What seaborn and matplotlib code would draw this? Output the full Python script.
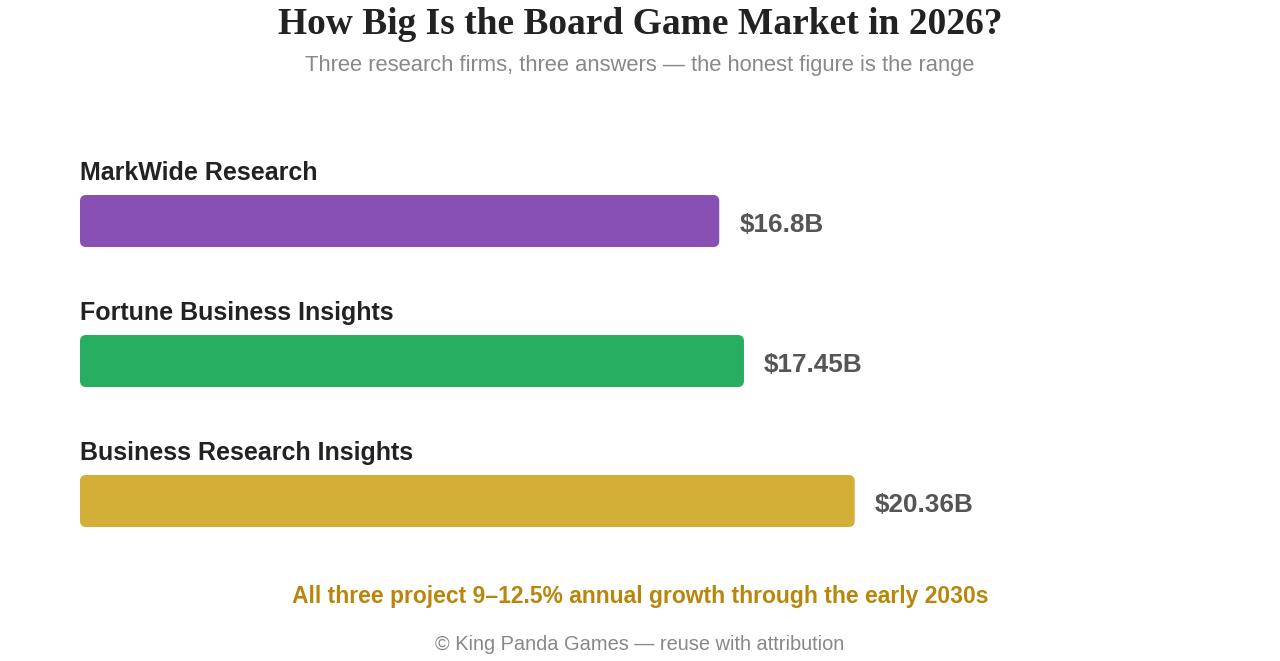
import matplotlib.pyplot as plt
import numpy as np, pandas as pd
import seaborn as sns
from matplotlib.patches import FancyBboxPatch

firms = ["MarkWide Research", "Fortune Business Insights", "Business Research Insights"]
values = [16.8, 17.45, 20.36]
value_labels = ["$16.8B", "$17.45B", "$20.36B"]
colors = ["#8950B3", "#27AE60", "#D4AF37"]

df = pd.DataFrame({"firm": firms, "value": values})

sns.set_theme(style="white")
plt.rcParams["font.family"] = ["Liberation Sans", "DejaVu Sans"]

fig = plt.figure(figsize=(12.8, 6.61), dpi=100)
ax = fig.add_axes([80 / 1280, 90 / 661, 1120 / 1280, 420 / 661])

sns.barplot(data=df, x="value", y="firm", hue="firm", palette=colors,
            orient="h", width=52 / 140, saturation=1, legend=False, ax=ax)

# swap plain bars for rounded ones
for p in list(ax.patches):
    x0, y0, w, h = p.get_x(), p.get_y(), p.get_width(), p.get_height()
    fc = p.get_facecolor()
    p.remove()
    ax.add_patch(FancyBboxPatch((x0, y0), w, h,
                                boxstyle="round,pad=0,rounding_size=0.16",
                                mutation_aspect=0.27, fc=fc, ec="none"))

ax.set_xlim(0, 1120 / 38.05)
ax.set_ylim(2.5, -0.5)
ax.axis("off")

for i, (name, v, lab) in enumerate(zip(firms, values, value_labels)):
    ax.text(0, i - 0.345, name, ha="left", va="center", fontsize=18,
            fontweight="bold", color="#222222")
    ax.text(v + 0.53, i + 0.03, lab, ha="left", va="center", fontsize=18.8,
            fontweight="bold", color="#555555")

fig.text(0.5, 1 - 24 / 661, "How Big Is the Board Game Market in 2026?",
         ha="center", va="center", fontsize=27, fontweight="bold",
         family=["Liberation Serif", "DejaVu Serif"], color="#222222")
fig.text(0.5, 1 - 66 / 661,
         "Three research firms, three answers \u2014 the honest figure is the range",
         ha="center", va="center", fontsize=15.8, color="#888888")
fig.text(0.5, 1 - 597 / 661,
         "All three project 9\u201312.5% annual growth through the early 2030s",
         ha="center", va="center", fontsize=16.5, fontweight="bold", color="#B8860B")
fig.text(0.5, 1 - 645 / 661, "\u00a9 King Panda Games \u2014 reuse with attribution",
         ha="center", va="center", fontsize=14.4, color="#888888")

fig.savefig("out.png", dpi=100, facecolor="white")
